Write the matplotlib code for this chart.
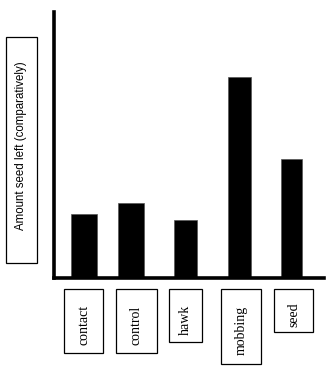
import matplotlib
matplotlib.use("Agg")
import matplotlib.pyplot as plt
from matplotlib.patches import Rectangle

# Data
categories = ["contact", "control", "hawk", "mobbing", "seed"]
seed_left = [64, 75, 58, 201, 119]
y_label = "Amount seed left (comparatively)"

# Layout (pixel units of the 334x372 canvas)
W, H = 334, 372
bar_pos = [30, 77, 131.5, 185.5, 237.5]
bar_w = [26, 26, 23, 23, 21]
# label boxes: (left, top, width, height)
label_boxes = [(64, 289, 39, 64), (116, 289, 41, 64), (169, 289, 33, 53),
               (221, 289, 40, 75), (274, 289, 39, 43)]

fig = plt.figure(figsize=(W / 100, H / 100), dpi=100)


def fx(px):
    return px / W


def fy(py):
    return 1 - py / H


ax = fig.add_axes([fx(54), fy(278), fx(324) - fx(54), fy(12) - fy(278)])
ax.bar(bar_pos, seed_left, width=bar_w, color="black", edgecolor="#555555",
       linewidth=0.5)
ax.set_xlim(0, 270)
ax.set_ylim(0, 266)
for s in ("top", "right"):
    ax.spines[s].set_visible(False)
for s in ("left", "bottom"):
    ax.spines[s].set_linewidth(2.6)
    ax.spines[s].set_color("black")
ax.set_xticks([])
ax.set_yticks([])

# Category labels inside boxed frames
for name, (l, t, w, h) in zip(categories, label_boxes):
    fig.add_artist(Rectangle((fx(l), fy(t + h)), w / W, h / H,
                             transform=fig.transFigure, fill=False,
                             edgecolor="black", linewidth=0.9))
    fig.text(fx(l + w / 2), fy(t + h / 2 + 4), name, rotation=90,
             ha="center", va="center", family="Liberation Serif",
             fontsize=10)

# Boxed y-axis label
fig.add_artist(Rectangle((fx(6), fy(263)), 31 / W, 226 / H,
                         transform=fig.transFigure, fill=False,
                         edgecolor="black", linewidth=0.9))
fig.text(fx(21.5), fy(146), y_label, rotation=90, ha="center", va="center",
         family="Liberation Sans", fontsize=8.3)

fig.savefig("out.png", dpi=100)
